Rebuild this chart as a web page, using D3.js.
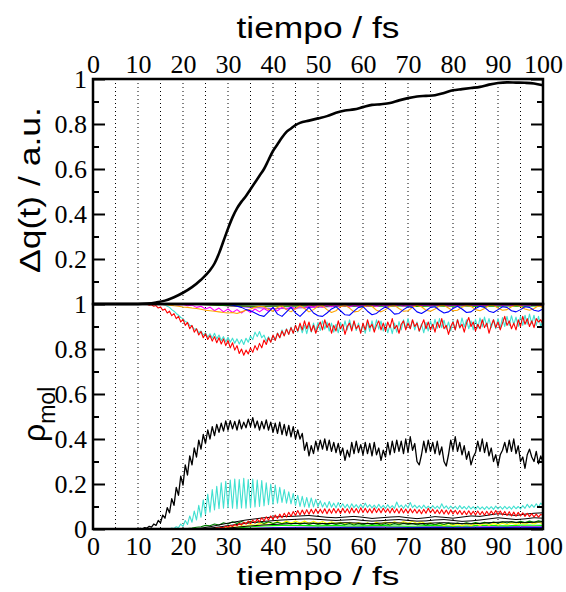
<!DOCTYPE html>
<html>
<head>
<meta charset="utf-8">
<script src="https://cdn.jsdelivr.net/npm/d3@7"></script>
<style>
body { margin: 0; background: #fff; }
svg { display: block; }
.sans { font-family: "Liberation Sans", Arial, sans-serif; }
</style>
</head>
<body>
<div id="chart"></div>
<script>
// ---- data ----
const xTicks = [0, 10, 20, 30, 40, 50, 60, 70, 80, 90, 100];
const gridTimes = [5, 10, 15, 20, 25, 30, 35, 40, 45, 50, 55, 60, 65, 70, 75, 80, 85, 90, 95];
const yMajorTop = [0.2, 0.4, 0.6, 0.8, 1];
const yMajorBot = [0, 0.2, 0.4, 0.6, 0.8, 1];
const yMinor = [0.1, 0.3, 0.5, 0.7, 0.9];

// top panel: charge transfer
const dqTime = [0, 5, 10, 12, 14, 16, 18, 20, 22, 24, 26, 27, 28, 29, 30, 31, 32, 33, 34, 35, 36, 37, 38, 39, 40,
  41, 42, 43, 44, 45, 46, 48, 50, 52, 54, 56, 58, 60, 62, 64, 66, 68, 70, 72, 74, 76, 78, 80, 82, 84, 86, 88, 90,
  92, 94, 96, 98, 100];
const dqValue = [0, 0, 0, .002, .007, .015, .03, .05, .075, .108, .15, .18, .225, .28, .335, .385, .425, .455, .48, .51,
  .54, .57, .60, .64, .68, .71, .74, .765, .78, .795, .805, .815, .825, .835, .85, .86, .865, .875, .885, .888, .893,
  .905, .915, .922, .925, .928, .938, .95, .955, .96, .965, .975, .982, .985, .984, .983, .98, .972];

// bottom panel: populations (0.5 fs sampling)
const rhoBlack = [ // t = 10 .. 100
  0,.003,.001,.006,.004,.012,.008,.022,.016,.038,
  .028,.062,.048,.095,.072,.135,.105,.185,.150,.235,
  .195,.285,.240,.325,.285,.360,.320,.395,.355,.420,
  .380,.440,.400,.455,.415,.465,.430,.470,.435,.480,
  .440,.482,.445,.478,.440,.485,.445,.475,.450,.488,
  .455,.495,.450,.480,.440,.478,.445,.485,.440,.475,
  .430,.470,.425,.475,.420,.465,.415,.460,.410,.455,
  .400,.440,.400,.425,.350,.385,.325,.370,.335,.390,
  .350,.395,.355,.400,.350,.395,.345,.385,.340,.380,
  .330,.360,.305,.350,.320,.385,.335,.390,.340,.375,
  .330,.385,.335,.380,.325,.385,.330,.360,.305,.350,
  .320,.385,.330,.390,.340,.395,.345,.390,.335,.400,
  .340,.410,.350,.380,.300,.285,.330,.390,.340,.395,
  .345,.385,.335,.390,.330,.365,.300,.280,.330,.395,
  .350,.410,.345,.385,.330,.370,.310,.345,.285,.320,
  .340,.390,.345,.400,.340,.385,.325,.360,.300,.330,
  .280,.330,.350,.385,.340,.395,.345,.400,.335,.370,
  .300,.320,.270,.330,.355,.320,.300,.345,.290,.325,
  .295];
const rhoCyanLow = [ // t = 17 .. 100
  0,.004,.002,.010,.006,.022,.012,.038,.020,.058,
  .030,.080,.040,.105,.052,.130,.065,.155,.075,.175,
  .085,.190,.090,.205,.092,.212,.095,.218,.092,.222,
  .090,.220,.094,.225,.092,.220,.095,.222,.098,.218,
  .100,.215,.103,.205,.108,.200,.110,.195,.115,.185,
  .118,.175,.115,.165,.112,.158,.105,.150,.100,.145,
  .098,.140,.096,.138,.098,.132,.100,.125,.098,.118,
  .095,.122,.097,.115,.094,.118,.096,.112,.094,.110,
  .092,.112,.095,.108,.093,.110,.094,.115,.096,.108,
  .094,.106,.092,.110,.093,.105,.091,.108,.093,.104,
  .092,.120,.096,.106,.092,.108,.094,.118,.095,.106,
  .093,.104,.091,.106,.092,.102,.090,.104,.091,.102,
  .090,.112,.092,.103,.089,.102,.090,.101,.088,.104,
  .090,.100,.088,.102,.089,.099,.087,.101,.088,.098,
  .087,.100,.088,.099,.087,.102,.089,.100,.088,.101,
  .089,.099,.088,.102,.090,.100,.089,.104,.092,.110,
  .095,.108,.096,.112,.098,.115,.105];
const rhoRedLow = [ // t = 26 .. 100
  0,.002,.001,.005,.003,.008,.005,.012,.008,.016,
  .011,.020,.014,.025,.018,.030,.022,.035,.025,.040,
  .028,.044,.032,.050,.036,.054,.040,.058,.043,.062,
  .047,.066,.050,.070,.053,.074,.056,.078,.060,.082,
  .062,.084,.065,.086,.066,.088,.068,.089,.069,.088,
  .070,.090,.068,.089,.070,.091,.071,.090,.069,.092,
  .072,.090,.070,.093,.072,.091,.071,.094,.073,.092,
  .072,.090,.071,.093,.073,.091,.072,.092,.074,.090,
  .071,.092,.072,.090,.070,.091,.071,.089,.070,.090,
  .072,.088,.070,.086,.068,.088,.070,.092,.072,.088,
  .069,.085,.068,.086,.067,.084,.066,.085,.067,.083,
  .066,.082,.064,.080,.063,.081,.064,.079,.062,.080,
  .063,.078,.061,.079,.062,.080,.064,.082,.065,.080,
  .062,.078,.060,.077,.058,.075,.057,.074,.058,.072,
  .056,.070,.055,.068,.054,.066,.053,.065,.060];
const rhoRedHigh = [ // t = 11 .. 100
  1,.998,.999,.995,.997,.990,.993,.982,.987,.972,
  .978,.960,.968,.948,.957,.935,.945,.920,.932,.905,
  .918,.890,.905,.875,.890,.862,.878,.850,.868,.842,
  .860,.835,.855,.828,.850,.822,.845,.815,.838,.805,
  .828,.795,.815,.780,.800,.772,.795,.778,.805,.785,
  .815,.795,.825,.805,.840,.820,.850,.830,.862,.838,
  .870,.850,.880,.858,.888,.865,.895,.870,.905,.880,
  .915,.885,.925,.890,.920,.878,.905,.870,.900,.920,
  .885,.930,.895,.915,.870,.905,.880,.925,.890,.910,
  .865,.900,.915,.880,.925,.890,.905,.870,.915,.885,
  .930,.895,.910,.875,.905,.925,.885,.915,.880,.920,
  .895,.935,.890,.905,.870,.910,.925,.885,.915,.890,
  .930,.900,.915,.880,.905,.930,.890,.920,.885,.910,
  .875,.920,.895,.935,.890,.905,.865,.900,.920,.885,
  .930,.895,.910,.875,.915,.940,.900,.920,.880,.910,
  .890,.930,.895,.915,.870,.905,.930,.895,.920,.885,
  .915,.945,.905,.925,.890,.915,.885,.930,.900,.945,
  .910,.935,.900,.925,.895,.935,.920,.930,.910];
const rhoCyanHigh = [ // t = 15 .. 100
  1,.998,.996,.990,.985,.975,.968,.958,.950,.940,
  .935,.922,.918,.905,.902,.888,.890,.872,.880,.862,
  .872,.852,.868,.848,
  .870,.845,.862,.838,.855,.832,.852,.830,.848,.826,
  .845,.822,.842,.820,.848,.830,.858,.842,.875,.855,
  .878,.850,.862,.835,.855,.832,.860,.840,.872,.850,
  .885,.860,.890,.865,.898,.870,.905,.875,.908,.872,
  .905,.868,.910,.875,.915,.880,.918,.882,.925,.888,
  .920,.880,.915,.875,.910,.872,.918,.880,.925,.885,
  .930,.890,.922,.882,.915,.875,.912,.870,.918,.878,
  .925,.885,.930,.888,.924,.880,.915,.872,.908,.868,
  .915,.875,.922,.885,.930,.890,.935,.892,.928,.885,
  .920,.878,.912,.872,.918,.880,.925,.888,.932,.892,
  .935,.895,.928,.888,.920,.880,.925,.885,.932,.892,
  .938,.898,.930,.890,.925,.885,.932,.892,.938,.898,
  .942,.900,.935,.895,.930,.890,.935,.895,.940,.900,
  .945,.905,.948,.908,.942,.900,.945,.905,.950,.910,
  .955,.912,.950,.905,.945,.900,.930];

// 1 fs sampling
const rhoBlueHigh = [ // t = 30 .. 100
  .998,.995,.990,.985,.975,.970,.960,.950,.945,.965,
  .985,.955,.945,.965,.985,.960,.945,.965,.985,.960,
  .948,.945,.960,.978,.988,.970,.952,.950,.968,.985,
  .988,.968,.952,.958,.975,.988,.975,.955,.958,.975,
  .988,.985,.965,.958,.970,.985,.988,.972,.960,.965,
  .980,.990,.978,.962,.965,.980,.990,.985,.968,.962,
  .975,.988,.985,.970,.965,.975,.988,.985,.972,.968,
  .978];
const rhoOrangeHigh = [ // t = 15 .. 100
  .999,.997,.995,.992,.990,
  .987,.985,.982,.980,.977,.972,.970,.968,.965,.962,
  .960,.962,.958,.965,.972,.978,.985,.990,.988,.975,
  .968,.985,.992,.975,.965,.980,.992,.980,.965,.975,
  .990,.992,.975,.962,.970,.988,.994,.982,.965,.968,
  .985,.994,.990,.972,.965,.975,.990,.994,.980,.968,
  .970,.985,.994,.988,.972,.968,.978,.992,.994,.982,
  .970,.972,.986,.994,.990,.975,.970,.980,.993,.994,
  .982,.972,.975,.988,.995,.990,.978,.972,.980,.992,
  .985];
const rhoMagentaHigh = [ // t = 18 .. 100
  .999,.996,.998,.992,.995,.985,.990,.978,.986,.970,
  .982,.965,.978,.962,.975,.960,.975,.962,.978,.965,
  .980,.968,.982,.970,.985,.975,.988,.978,.990,.982,
  .992,.985,.993,.986,.994,.988,.995,.988,.994,.987,
  .995,.989,.996,.990,.995,.989,.996,.990,.996,.991,
  .997,.990,.996,.991,.997,.992,.996,.991,.997,.992,
  .997,.991,.996,.992,.997,.992,.997,.993,.997,.992,
  .996,.993,.997,.993,.997,.992,.996,.993,.997,.993,
  .997,.994,.996];
const rhoGreenLow = [ // t = 20 .. 100
  0,.002,.004,.008,.010,.016,.014,.022,.018,.028,
  .022,.032,.025,.033,.026,.034,.027,.033,.025,.032,
  .024,.030,.023,.029,.022,.028,.021,.027,.020,.026,
  .020,.025,.019,.026,.020,.025,.019,.024,.018,.024,
  .019,.025,.020,.024,.018,.023,.018,.024,.019,.025,
  .020,.024,.019,.023,.018,.024,.019,.025,.020,.026,
  .021,.027,.022,.028,.023,.029,.024,.030,.025,.031,
  .026,.032,.027,.033,.028,.034,.029,.035,.030,.036,
  .032];
const rhoYellowLow = [ // t = 28 .. 100
  0,.003,.006,.010,.008,.014,.012,.020,.016,.025,
  .020,.030,.024,.033,.026,.035,.027,.036,.027,.035,
  .026,.034,.025,.033,.024,.032,.024,.030,.022,.030,
  .022,.029,.021,.028,.020,.030,.022,.031,.023,.032,
  .024,.033,.025,.034,.024,.032,.022,.028,.018,.025,
  .016,.024,.015,.022,.014,.022,.015,.023,.016,.024,
  .017,.025,.018,.026,.019,.027,.020,.028,.021,.029,
  .022,.030,.024];

// coarser sampling
const rhoBlack2 = [ // t = 22 .. 100, step 2
  0,.004,.010,.018,.026,.033,.040,.045,.050,.053,.055,.056,.058,.060,.056,.052,.050,.053,.056,.052,
  .047,.050,.053,.055,.050,.046,.050,.055,.052,.048,.053,.058,.056,.062,.068,.064,.060,.066,.070,.072];
const rhoBlack3 = [ // t = 24 .. 100, step 2
  0,.004,.009,.015,.020,.025,.030,.034,.037,.040,.042,.044,.045,.043,.040,.038,.040,.042,.038,.035,
  .037,.040,.042,.038,.035,.036,.040,.042,.038,.034,.036,.040,.045,.050,.046,.042,.045,.050,.048];
const rhoBlack4 = [ // t = 28 .. 100, step 2
  0,.004,.008,.012,.015,.018,.020,.022,.024,.025,.026,.025,.024,.026,.028,.027,.025,.024,.026,.028,
  .027,.025,.023,.025,.027,.028,.026,.024,.023,.025,.028,.030,.032,.030,.028,.030,.032];
const rhoLimeLow = [ // t = 30 .. 100, step 2
  0,.004,.008,.011,.013,.015,.016,.017,.016,.015,.014,.015,.016,.014,.013,.014,.015,.016,
  .014,.013,.012,.013,.015,.016,.014,.012,.013,.014,.016,.017,.015,.014,.016,.018,.017,.016];
const rhoBlueLow = [0, .002, .004, .005, .005, .006, .006, .005, .006, .007, .006, .006, .007, .006, .007]; // t = 30 .. 100, step 5
const rhoVioletLow = [0, .003, .006, .008, .009, .009, .010, .010, .009, .010, .011, .010, .010, .011, .010]; // t = 30 .. 100, step 5
const rhoGreenHigh = [ // t = 20 .. 100, step 2
  1,.999,.998,.996,.994,.993,.992,.991,.990,.990,.991,.990,.990,.991,.990,.989,.990,.990,.991,.990,
  .989,.990,.990,.990,.991,.990,.989,.990,.991,.990,.990,.991,.990,.989,.990,.990,.991,.990,.990,.991,.990];
const rhoBrownHigh = [ // t = 22 .. 100, step 2
  1,.998,.996,.994,.992,.990,.989,.988,.989,.990,.991,.992,.993,.993,.994,.994,.995,.995,.995,.996,
  .996,.996,.996,.997,.997,.997,.997,.997,.998,.998,.998,.998,.998,.998,.998,.998,.998,.998,.998,.998];
const rhoPurpleHigh = [1, .992, .985, .980, .982, .986, .990, .992, .993, .994, .994, .995, .995, .996, .996, .996]; // t = 25 .. 100, step 5

// pick an installed serif face for the numbers (falls back to sans)
function hasFont(name) {
  const ctx = document.createElement("canvas").getContext("2d");
  const probe = "0.8 10 20 mmwwll";
  return ["monospace", "sans-serif"].every(fb => {
    ctx.font = `40px ${fb}`;
    const w0 = ctx.measureText(probe).width;
    ctx.font = `40px "${name}", ${fb}`;
    return ctx.measureText(probe).width !== w0;
  });
}
const serifName = ["Liberation Serif", "Times New Roman", "DejaVu Serif", "Noto Serif", "FreeSerif", "Tinos"]
  .find(hasFont);
const numFont = serifName ? `"${serifName}", serif` : `"Liberation Sans", Arial, sans-serif`;

// ---- layout ----
const width = 566, height = 592;
const x0 = 93, x1 = 543, yT = 79, yM = 304, yB = 529;

const svg = d3.select("#chart").append("svg")
  .attr("width", width)
  .attr("height", height);

const x = d3.scaleLinear().domain([0, 100]).range([x0, x1]);
const yTop = d3.scaleLinear().domain([0, 1]).range([yM, yT]);
const yBot = d3.scaleLinear().domain([0, 1]).range([yB, yM]);

// dotted vertical grid
svg.append("g")
  .selectAll("line")
  .data(gridTimes)
  .enter()
  .append("line")
  .attr("x1", d => x(d)).attr("x2", d => x(d))
  .attr("y1", yT).attr("y2", yB)
  .attr("stroke", "#000")
  .attr("stroke-width", 1)
  .attr("stroke-dasharray", "1,3");

// bottom panel curves
function series(values, t0, dt) {
  return values.map((v, i) => ({ t: t0 + i * dt, v: v }));
}
const bottomLines = [
  { d: series(rhoPurpleHigh, 25, 5), color: "#8a2be2", w: 1 },
  { d: series(rhoBrownHigh, 22, 2), color: "#a0522d", w: 1 },
  { d: series(rhoGreenHigh, 20, 2), color: "#00a000", w: 1 },
  { d: series(rhoMagentaHigh, 18, 1), color: "#ff00ff", w: 1.1 },
  { d: series(rhoOrangeHigh, 15, 1), color: "#ffa500", w: 1.1 },
  { d: series(rhoBlueHigh, 30, 1), color: "#0000ff", w: 1.1 },
  { d: series(rhoCyanHigh, 15, 0.5), color: "#40e0d0", w: 1.1 },
  { d: series(rhoRedHigh, 11, 0.5), color: "#ff0000", w: 1.1 },
  { d: series(rhoVioletLow, 30, 5), color: "#8a2be2", w: 1 },
  { d: series(rhoBlueLow, 30, 5), color: "#0000ff", w: 1 },
  { d: series(rhoLimeLow, 30, 2), color: "#00ff00", w: 1.1 },
  { d: series(rhoYellowLow, 28, 1), color: "#ffff00", w: 1.1 },
  { d: series(rhoGreenLow, 20, 1), color: "#008000", w: 1.1 },
  { d: series(rhoBlack4, 28, 2), color: "#000", w: 1 },
  { d: series(rhoBlack3, 24, 2), color: "#000", w: 1 },
  { d: series(rhoBlack2, 22, 2), color: "#000", w: 1 },
  { d: series(rhoCyanLow, 17, 0.5), color: "#40e0d0", w: 1.1 },
  { d: series(rhoRedLow, 26, 0.5), color: "#ff0000", w: 1.1 },
  { d: series(rhoBlack, 10, 0.5), color: "#000", w: 1.3 }
];

const lineBot = d3.line().x(d => x(d.t)).y(d => yBot(d.v));
svg.append("g")
  .selectAll("path")
  .data(bottomLines)
  .enter()
  .append("path")
  .attr("d", d => lineBot(d.d))
  .attr("fill", "none")
  .attr("stroke", d => d.color)
  .attr("stroke-width", d => d.w)
  .attr("stroke-linejoin", "round");

// top panel curve
const lineTop = d3.line().curve(d3.curveMonotoneX).x(d => x(d[0])).y(d => yTop(d[1]));
svg.append("path")
  .attr("d", lineTop(d3.zip(dqTime, dqValue)))
  .attr("fill", "none")
  .attr("stroke", "#000")
  .attr("stroke-width", 2.6)
  .attr("stroke-linejoin", "round");

// frames
[[yT, yM], [yM, yB]].forEach(p => {
  svg.append("rect")
    .attr("x", x0).attr("y", p[0])
    .attr("width", x1 - x0).attr("height", p[1] - p[0])
    .attr("fill", "none")
    .attr("stroke", "#000")
    .attr("stroke-width", 2.5);
});

// y axes (ticks inside, both sides)
function styleAxis(g) {
  g.attr("font-family", null).attr("font-size", null);
  g.select(".domain").remove();
  g.selectAll(".tick line").attr("stroke-width", 2);
  g.selectAll("text")
    .style("font-family", numFont)
    .style("font-size", "26px")
    .attr("fill", "#000");
}
function yAxes(scale, major) {
  svg.append("g").attr("transform", `translate(${x0},0)`)
    .call(d3.axisLeft(scale).tickValues(major).tickSize(-12).tickPadding(6).tickFormat(d3.format("")))
    .call(styleAxis);
  svg.append("g").attr("transform", `translate(${x0},0)`)
    .call(d3.axisLeft(scale).tickValues(yMinor).tickSize(-6).tickFormat(""))
    .call(styleAxis);
  svg.append("g").attr("transform", `translate(${x1},0)`)
    .call(d3.axisRight(scale).tickValues(major).tickSize(-12).tickFormat(""))
    .call(styleAxis);
  svg.append("g").attr("transform", `translate(${x1},0)`)
    .call(d3.axisRight(scale).tickValues(yMinor).tickSize(-6).tickFormat(""))
    .call(styleAxis);
}
yAxes(yTop, yMajorTop);
yAxes(yBot, yMajorBot);

// x axes: labels only
svg.append("g").attr("transform", `translate(0,${yT})`)
  .call(d3.axisTop(x).tickValues(xTicks).tickSize(0).tickPadding(6))
  .call(styleAxis);
svg.append("g").attr("transform", `translate(0,${yB})`)
  .call(d3.axisBottom(x).tickValues(xTicks).tickSize(0).tickPadding(8))
  .call(styleAxis);

// titles
svg.append("text")
  .attr("class", "sans")
  .attr("x", (x0 + x1) / 2).attr("y", 38)
  .attr("text-anchor", "middle")
  .style("font-size", "29px")
  .attr("textLength", 163).attr("lengthAdjust", "spacingAndGlyphs")
  .text("tiempo / fs");
svg.append("text")
  .attr("class", "sans")
  .attr("x", (x0 + x1) / 2).attr("y", 585)
  .attr("text-anchor", "middle")
  .style("font-size", "26px")
  .attr("textLength", 163).attr("lengthAdjust", "spacingAndGlyphs")
  .text("tiempo / fs");

svg.append("text")
  .attr("class", "sans")
  .attr("transform", "translate(40,190) rotate(-90)")
  .attr("text-anchor", "middle")
  .style("font-size", "30px")
  .attr("textLength", 166).attr("lengthAdjust", "spacingAndGlyphs")
  .text("Δq(t) / a.u.");

const rho = svg.append("text")
  .attr("class", "sans")
  .attr("transform", "translate(45,442) rotate(-90)");
rho.append("tspan").style("font-size", "32px").text("ρ");
rho.append("tspan").style("font-size", "23px").attr("dy", 10).text("mol");
</script>
</body>
</html>
